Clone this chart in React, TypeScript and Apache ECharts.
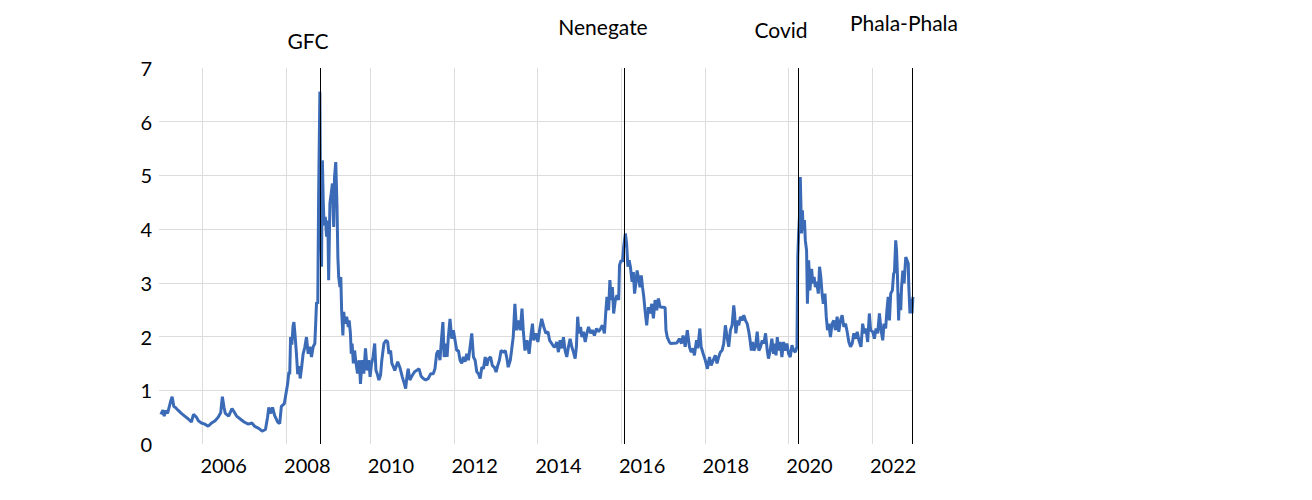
import React, { useEffect, useRef } from "react";
import * as echarts from "echarts";

// Tick labels
const yearTicks = [2006, 2008, 2010, 2012, 2014, 2016, 2018, 2020, 2022];
const yMin = 0;
const yMax = 7;

// Events
const eventNames = ["GFC", "Nenegate", "Covid", "Phala-Phala"];
const eventDates = [2008.81, 2016.07, 2020.22, 2022.955];

// Series values: [fractional year, value]
const pre2008: [number, number][] = [
  [2005.0, 0.55], [2005.05, 0.63], [2005.08, 0.52], [2005.11, 0.62], [2005.16, 0.57], [2005.19, 0.66],
  [2005.24, 0.81], [2005.27, 0.88], [2005.31, 0.7], [2005.35, 0.68], [2005.41, 0.63], [2005.49, 0.57],
  [2005.57, 0.52], [2005.65, 0.47], [2005.73, 0.41], [2005.78, 0.55], [2005.85, 0.5], [2005.9, 0.43],
  [2005.97, 0.39], [2006.05, 0.37], [2006.13, 0.33], [2006.21, 0.39], [2006.29, 0.43], [2006.37, 0.5],
  [2006.43, 0.58], [2006.47, 0.88], [2006.51, 0.68], [2006.54, 0.57], [2006.62, 0.52], [2006.7, 0.66],
  [2006.75, 0.6], [2006.81, 0.52], [2006.89, 0.47], [2006.99, 0.41], [2007.09, 0.37], [2007.18, 0.39],
  [2007.24, 0.33], [2007.34, 0.29], [2007.42, 0.24], [2007.5, 0.27], [2007.55, 0.5], [2007.58, 0.68],
  [2007.63, 0.57], [2007.67, 0.68], [2007.72, 0.53], [2007.79, 0.41], [2007.84, 0.38], [2007.88, 0.7],
  [2007.95, 0.75], [2008.03, 1.12], [2008.06, 1.34],
];

const gfc: [number, number][] = [
  [2008.08, 1.3], [2008.1, 1.99], [2008.13, 1.85], [2008.16, 2.2], [2008.18, 2.27], [2008.21, 2.0],
  [2008.24, 1.68], [2008.27, 1.3], [2008.3, 1.45], [2008.33, 1.22], [2008.36, 1.4], [2008.4, 1.68],
  [2008.44, 1.8], [2008.48, 1.99], [2008.52, 1.68], [2008.56, 1.81], [2008.6, 1.62], [2008.64, 1.81],
  [2008.68, 1.87], [2008.7, 2.24], [2008.72, 2.64], [2008.75, 2.61], [2008.77, 4.6], [2008.8, 6.56],
  [2008.81, 5.3], [2008.82, 4.2], [2008.84, 3.3], [2008.86, 5.28], [2008.88, 4.54], [2008.9, 4.07],
  [2008.93, 4.23], [2008.96, 3.86], [2008.99, 4.16], [2009.01, 3.05], [2009.04, 4.48], [2009.07, 4.66],
  [2009.1, 4.85], [2009.13, 4.04], [2009.15, 4.97], [2009.18, 5.25], [2009.21, 4.41], [2009.23, 3.48],
  [2009.25, 3.11], [2009.28, 2.92], [2009.3, 3.11], [2009.32, 2.49], [2009.35, 2.02], [2009.37, 2.46],
  [2009.4, 2.24], [2009.44, 2.37], [2009.48, 2.18], [2009.5, 2.3], [2009.53, 2.06], [2009.55, 1.68],
  [2009.57, 1.87], [2009.6, 1.5], [2009.63, 1.74], [2009.66, 1.53], [2009.7, 1.31], [2009.74, 1.56],
  [2009.77, 1.12], [2009.81, 1.56], [2009.85, 1.31], [2009.89, 1.78], [2009.93, 1.37], [2009.97, 1.56],
  [2010.0, 1.25], [2010.03, 1.47], [2010.07, 1.62], [2010.11, 1.87], [2010.14, 1.37], [2010.17, 1.31],
  [2010.21, 1.19], [2010.25, 1.28], [2010.28, 1.56], [2010.33, 1.87], [2010.38, 1.93], [2010.42, 1.9],
  [2010.45, 1.68], [2010.49, 1.74], [2010.52, 1.5], [2010.56, 1.43],
];

const mid2010s: [number, number][] = [
  [2010.59, 1.37], [2010.66, 1.53], [2010.71, 1.43], [2010.77, 1.25], [2010.82, 1.12], [2010.85, 1.03],
  [2010.88, 1.25], [2010.91, 1.4], [2010.95, 1.19], [2011.01, 1.28], [2011.06, 1.34], [2011.11, 1.37],
  [2011.17, 1.4], [2011.22, 1.26], [2011.27, 1.22], [2011.33, 1.19], [2011.39, 1.22], [2011.45, 1.31],
  [2011.51, 1.31], [2011.55, 1.4], [2011.59, 1.68], [2011.63, 1.74], [2011.67, 1.56], [2011.71, 1.99],
  [2011.74, 2.27], [2011.77, 1.62], [2011.81, 1.87], [2011.84, 1.62], [2011.87, 1.99], [2011.91, 2.33],
  [2011.95, 1.96], [2011.99, 2.12], [2012.03, 1.93], [2012.07, 1.74], [2012.11, 1.74], [2012.15, 1.56],
  [2012.19, 1.5], [2012.23, 1.62], [2012.27, 1.53], [2012.31, 1.68], [2012.35, 1.56], [2012.39, 1.81],
  [2012.43, 2.06], [2012.47, 1.62], [2012.51, 1.56], [2012.55, 1.34], [2012.59, 1.31], [2012.63, 1.22],
  [2012.67, 1.43], [2012.71, 1.4], [2012.75, 1.62], [2012.79, 1.46], [2012.83, 1.59], [2012.88, 1.62],
  [2012.92, 1.46], [2012.97, 1.43], [2013.01, 1.34], [2013.05, 1.46], [2013.09, 1.56], [2013.13, 1.74],
  [2013.19, 1.71], [2013.23, 1.74], [2013.27, 1.59], [2013.3, 1.43], [2013.35, 1.56], [2013.38, 1.74],
  [2013.42, 1.99], [2013.46, 2.61], [2013.5, 2.12], [2013.54, 2.3], [2013.59, 2.12], [2013.63, 2.52],
  [2013.66, 2.12], [2013.7, 1.74], [2013.75, 1.93], [2013.8, 1.68], [2013.85, 2.06], [2013.88, 2.24],
  [2013.91, 1.93], [2013.96, 2.06], [2014.01, 1.9], [2014.05, 2.12], [2014.1, 2.33], [2014.15, 2.18],
  [2014.2, 2.06], [2014.25, 2.09], [2014.29, 1.93], [2014.34, 1.87], [2014.39, 1.81],
];

const nenePeriod: [number, number][] = [
  [2014.42, 1.81], [2014.46, 1.9], [2014.5, 1.71], [2014.54, 1.93], [2014.58, 1.78], [2014.62, 1.99],
  [2014.66, 1.74], [2014.7, 1.62], [2014.74, 1.81], [2014.78, 1.96], [2014.82, 1.81], [2014.86, 1.71],
  [2014.9, 1.59], [2014.93, 1.81], [2014.96, 2.37], [2014.99, 2.06], [2015.03, 2.18], [2015.06, 1.99],
  [2015.1, 2.09], [2015.14, 1.9], [2015.18, 2.06], [2015.22, 2.18], [2015.27, 2.06], [2015.31, 2.12],
  [2015.36, 2.02], [2015.41, 2.15], [2015.46, 2.09], [2015.51, 2.15], [2015.55, 2.21], [2015.6, 2.06],
  [2015.63, 2.43], [2015.66, 2.74], [2015.7, 2.49], [2015.73, 3.05], [2015.76, 2.68], [2015.79, 2.92],
  [2015.82, 2.43], [2015.86, 2.68], [2015.9, 2.77], [2015.94, 2.68], [2015.96, 3.33], [2016.0, 3.42],
  [2016.03, 3.39], [2016.06, 3.67], [2016.1, 3.92], [2016.13, 3.73], [2016.16, 3.3], [2016.19, 3.42],
  [2016.22, 3.3], [2016.26, 3.02], [2016.29, 3.2], [2016.32, 2.8], [2016.35, 2.99], [2016.38, 3.23],
  [2016.41, 3.11], [2016.45, 2.92], [2016.48, 3.14], [2016.51, 2.92], [2016.54, 2.74], [2016.57, 2.49],
  [2016.61, 2.21], [2016.65, 2.55], [2016.69, 2.43], [2016.73, 2.61], [2016.77, 2.34], [2016.81, 2.68],
  [2016.85, 2.49], [2016.89, 2.71], [2016.93, 2.55], [2017.05, 2.54], [2017.07, 2.12], [2017.1, 1.99],
  [2017.15, 1.9], [2017.18, 1.87], [2017.33, 1.88], [2017.39, 1.96], [2017.44, 1.87], [2017.48, 2.02],
  [2017.53, 1.81], [2017.58, 2.12], [2017.63, 1.81], [2017.67, 1.71], [2017.72, 1.78], [2017.75, 1.65],
  [2017.8, 1.93], [2017.83, 1.78], [2017.88, 2.15], [2017.91, 1.81], [2017.96, 1.68], [2018.01, 1.56],
  [2018.06, 1.4], [2018.11, 1.62], [2018.15, 1.46], [2018.2, 1.56], [2018.25, 1.65],
];

const covidPeriod: [number, number][] = [
  [2018.29, 1.5], [2018.33, 1.62], [2018.37, 1.71], [2018.41, 1.74], [2018.45, 1.87], [2018.49, 2.21],
  [2018.53, 1.99], [2018.57, 1.81], [2018.61, 2.12], [2018.65, 2.21], [2018.69, 2.58], [2018.71, 2.43],
  [2018.74, 2.06], [2018.78, 2.3], [2018.81, 2.21], [2018.85, 2.37], [2018.89, 2.3], [2018.93, 2.4],
  [2018.97, 2.3], [2019.01, 2.24], [2019.05, 2.09], [2019.08, 1.93], [2019.11, 1.74], [2019.14, 1.9],
  [2019.17, 1.74], [2019.21, 1.81], [2019.25, 2.09], [2019.29, 1.74], [2019.33, 1.81], [2019.37, 1.93],
  [2019.41, 1.87], [2019.45, 2.06], [2019.49, 1.74], [2019.52, 1.59], [2019.56, 1.74], [2019.6, 1.96],
  [2019.64, 1.68], [2019.67, 1.87], [2019.7, 1.65], [2019.73, 1.99], [2019.76, 1.74], [2019.8, 1.9],
  [2019.84, 1.62], [2019.88, 1.9], [2019.92, 1.74], [2019.96, 1.87], [2020.0, 1.68], [2020.04, 1.62],
  [2020.08, 1.84], [2020.12, 1.74], [2020.16, 1.71], [2020.2, 1.81], [2020.22, 3.48], [2020.24, 3.92],
  [2020.26, 4.23], [2020.28, 4.97], [2020.31, 3.92], [2020.33, 4.35], [2020.35, 3.98], [2020.38, 4.17],
  [2020.4, 3.79], [2020.43, 3.6], [2020.45, 2.61], [2020.48, 3.42], [2020.51, 2.86], [2020.55, 3.26],
  [2020.58, 2.99], [2020.61, 3.11], [2020.64, 2.92], [2020.67, 3.02], [2020.71, 2.8], [2020.74, 3.3],
  [2020.77, 3.11], [2020.8, 2.8], [2020.83, 2.61], [2020.87, 2.8], [2020.9, 2.37], [2020.93, 2.12],
  [2020.96, 2.24], [2021.0, 1.99], [2021.04, 2.24], [2021.08, 2.3], [2021.12, 2.12], [2021.16, 2.37],
  [2021.2, 2.09], [2021.24, 2.3], [2021.28, 2.4], [2021.32, 2.18], [2021.36, 2.24], [2021.4, 2.09],
  [2021.44, 1.9], [2021.48, 1.81], [2021.52, 1.87], [2021.56, 2.06], [2021.6, 1.96], [2021.64, 2.09],
  [2021.68, 1.93], [2021.73, 1.81], [2021.77, 2.24], [2021.81, 2.06], [2021.85, 2.15], [2021.89, 1.9],
  [2021.93, 2.43], [2021.96, 2.12], [2022.01, 2.09], [2022.05, 1.96], [2022.09, 2.15], [2022.13, 2.06],
  [2022.17, 2.43], [2022.21, 2.12], [2022.25, 1.93], [2022.28, 2.24], [2022.32, 2.15], [2022.35, 2.49],
  [2022.38, 2.74], [2022.41, 2.3], [2022.44, 2.8], [2022.48, 2.86], [2022.51, 3.17], [2022.53, 3.2],
  [2022.56, 3.79], [2022.58, 3.6], [2022.6, 3.17], [2022.63, 2.3], [2022.65, 2.8], [2022.68, 2.49],
  [2022.7, 2.92], [2022.73, 3.23], [2022.76, 2.99], [2022.8, 3.48], [2022.83, 3.42], [2022.86, 3.36],
  [2022.87, 2.99], [2022.9, 2.43], [2022.92, 2.7], [2022.95, 2.43], [2022.97, 2.74],
];

const FONT = "Lato, 'Noto Sans', sans-serif";

export default function App() {
  const ref = useRef<HTMLDivElement>(null);

  useEffect(() => {
    const chart = echarts.init(ref.current as HTMLDivElement, null, { renderer: "svg" });
    const data = [...pre2008, ...gfc, ...mid2010s, ...nenePeriod, ...covidPeriod];
    const labelPos: [number, number][] = [
      [308, 40],
      [603, 26],
      [781, 29],
      [904, 22],
    ];
    chart.setOption({
      animation: false,
      backgroundColor: "#ffffff",
      grid: { left: 159, right: 399, top: 68, bottom: 56, outerBoundsMode: "none" },
      xAxis: {
        type: "value",
        min: 2004.956,
        max: 2022.973,
        axisLine: { show: false },
        axisTick: { show: false, customValues: yearTicks },
        splitLine: { show: true, lineStyle: { color: "#dcdcdc", width: 1 } },
        axisLabel: {
          customValues: yearTicks.map((y) => y + 0.5),
          formatter: (v: number) => String(Math.round(v - 0.5)),
          fontSize: 20,
          color: "#000",
          fontFamily: FONT,
          margin: 11,
        },
      },
      yAxis: {
        type: "value",
        min: yMin,
        max: yMax,
        interval: 1,
        axisLine: { show: false },
        axisTick: { show: false },
        splitLine: {
          show: true,
          showMinLine: false,
          showMaxLine: false,
          lineStyle: { color: "#dcdcdc", width: 1 },
        },
        axisLabel: { fontSize: 20, color: "#000", fontFamily: FONT, margin: 7 },
      },
      series: [
        {
          type: "line",
          data: [],
          z: 1,
          markLine: {
            silent: true,
            symbol: ["none", "none"],
            label: { show: false },
            lineStyle: { color: "#000", width: 1, type: "solid" },
            data: eventDates.map((d) => ({ xAxis: d })),
          },
        },
        {
          type: "line",
          data,
          z: 2,
          showSymbol: false,
          symbol: "none",
          lineStyle: { color: "#3B6BB6", width: 3 },
        },
      ],
      graphic: eventNames.map((name, i) => ({
        type: "text",
        x: labelPos[i][0],
        y: labelPos[i][1],
        style: {
          text: name,
          fill: "#000",
          fontSize: 21,
          fontFamily: FONT,
          textAlign: "center",
          textVerticalAlign: "middle",
        },
      })),
    });
    return () => chart.dispose();
  }, []);

  return (
    <div
      ref={ref}
      style={{ position: "fixed", left: 0, top: 0, width: 1312, height: 500, background: "#fff" }}
    />
  );
}
